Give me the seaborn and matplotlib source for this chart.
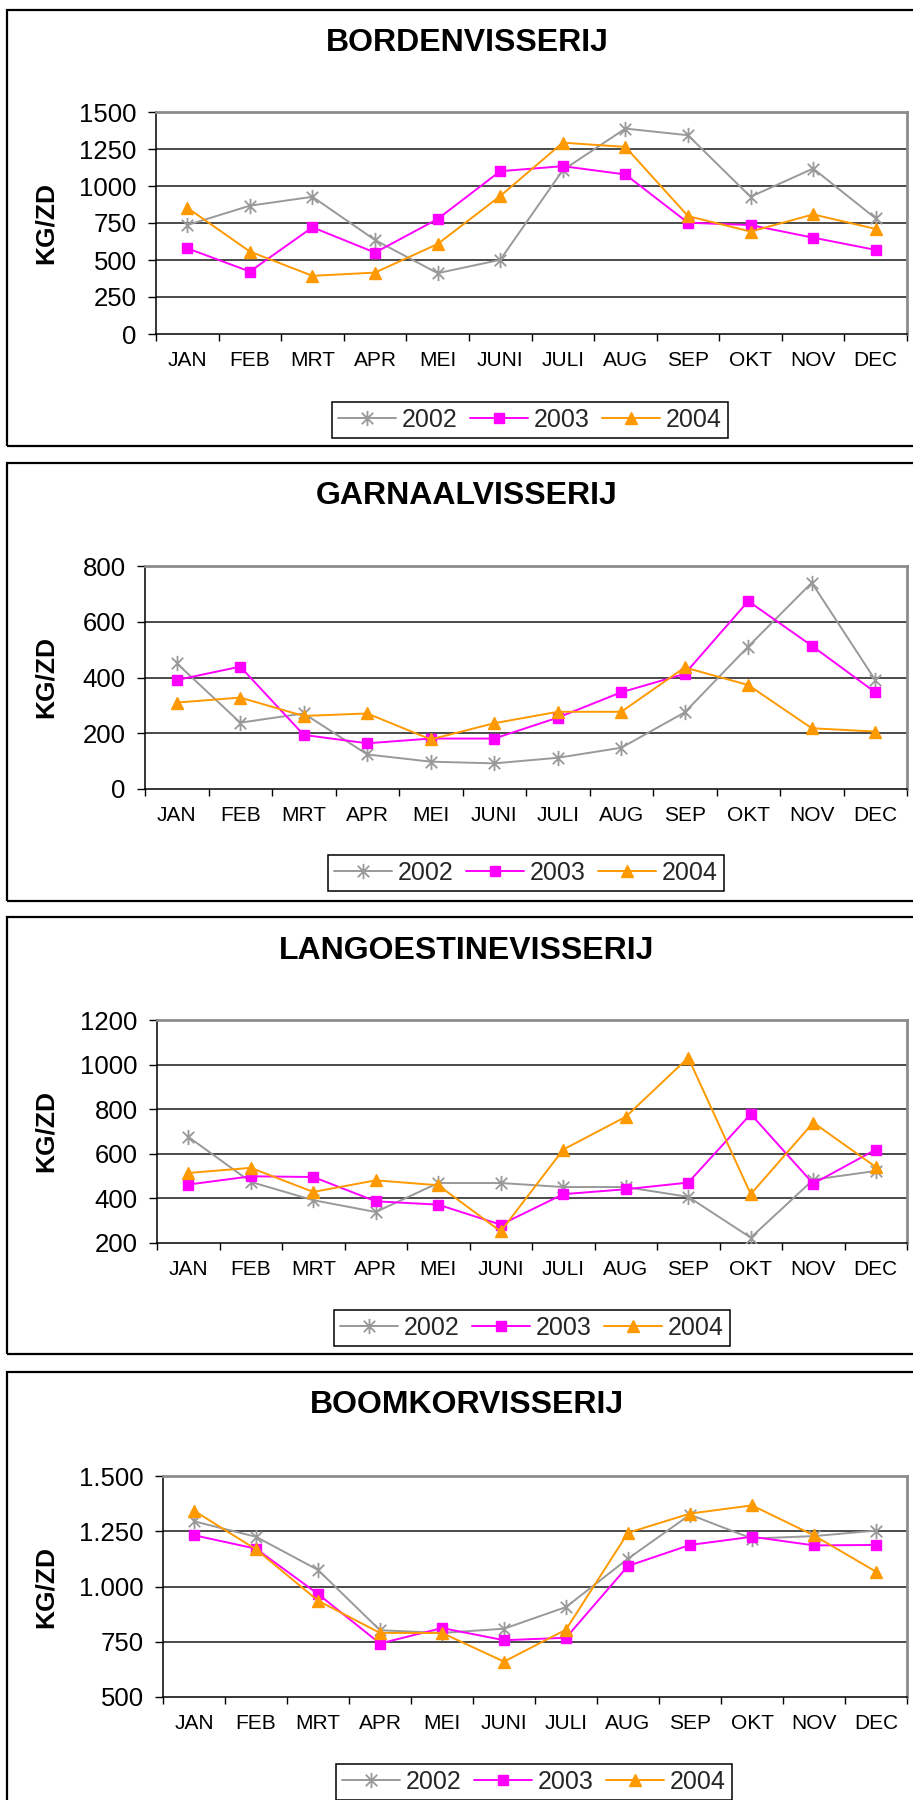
import matplotlib
matplotlib.use("Agg")
import matplotlib.pyplot as plt
from matplotlib.patches import Rectangle
from matplotlib.path import Path
from matplotlib.ticker import FuncFormatter
import numpy as np
import pandas as pd
import seaborn as sns

# ---- data -------------------------------------------------------------
months = ["JAN", "FEB", "MRT", "APR", "MEI", "JUNI", "JULI", "AUG", "SEP", "OKT", "NOV", "DEC"]
years = ["2002", "2003", "2004"]

borden_2002 = [736, 867, 927, 635, 411, 501, 1107, 1388, 1343, 927, 1118, 781]
borden_2003 = [579, 422, 721, 550, 777, 1100, 1134, 1078, 752, 736, 651, 568]
borden_2004 = [853, 557, 393, 415, 608, 932, 1293, 1264, 797, 692, 808, 710]

garnaal_2002 = [451, 238, 271, 124, 98, 92, 112, 148, 275, 511, 740, 391]
garnaal_2003 = [391, 439, 194, 164, 181, 181, 256, 347, 413, 674, 514, 347]
garnaal_2004 = [310, 328, 262, 271, 178, 236, 277, 277, 436, 373, 218, 206]

langoestine_2002 = [676, 474, 392, 339, 469, 469, 451, 451, 407, 224, 484, 523]
langoestine_2003 = [462, 499, 496, 387, 372, 282, 419, 441, 471, 778, 466, 619]
langoestine_2004 = [514, 537, 429, 481, 459, 252, 619, 766, 1031, 419, 740, 541]

boomkor_2002 = [1295, 1225, 1075, 802, 790, 809, 907, 1126, 1325, 1217, 1228, 1253]
boomkor_2003 = [1232, 1171, 966, 742, 812, 757, 768, 1093, 1188, 1225, 1186, 1188]
boomkor_2004 = [1343, 1168, 936, 790, 790, 660, 805, 1243, 1330, 1367, 1231, 1067]

titles = ["BORDENVISSERIJ", "GARNAALVISSERIJ", "LANGOESTINEVISSERIJ", "BOOMKORVISSERIJ"]
series = [
    [borden_2002, borden_2003, borden_2004],
    [garnaal_2002, garnaal_2003, garnaal_2004],
    [langoestine_2002, langoestine_2003, langoestine_2004],
    [boomkor_2002, boomkor_2003, boomkor_2004],
]
y_limits = [(0, 1500), (0, 800), (200, 1200), (500, 1500)]
y_steps = [250, 200, 200, 250]
dotted_thousands = [False, False, False, True]

# ---- styling ----------------------------------------------------------
sns.set_theme(style="white")
plt.rcParams["font.family"] = ["Liberation Sans", "DejaVu Sans"]

# star marker: an X crossed by a vertical bar
d = 0.75
star = Path(
    [(0, -1), (0, 1), (-d, -d), (d, d), (-d, d), (d, -d)],
    [Path.MOVETO, Path.LINETO, Path.MOVETO, Path.LINETO, Path.MOVETO, Path.LINETO],
)

colors = {"2002": "#999999", "2003": "#FF00FF", "2004": "#FF9900"}
markers = {"2002": star, "2003": "s", "2004": "^"}
msizes = {"2002": 11, "2003": 7.5, "2004": 9}
mews = {"2002": 1.3, "2003": 1.0, "2004": 1.0}

W, H = 913, 1800
fig = plt.figure(figsize=(W / 100, H / 100), dpi=100)
fig.patch.set_facecolor("white")

# pixel layout of each panel: (frame_top, frame_bottom, ax_left, ax_top, ax_bottom, title_y, legend_cx, legend_cy)
layout = [
    (10, 446, 156, 112, 334, 43, 530, 420),
    (463, 901, 145, 566, 789, 496, 526, 873),
    (917, 1354, 157, 1020, 1243, 951, 532, 1328),
    (1372, 1830, 163, 1476, 1697, 1405, 534, 1782),
]
ax_right = 907


def fx(px):
    return px / W


def fy(py):
    return 1 - py / H


for i, (frame_top, frame_bot, left, top, bot, title_y, lcx, lcy) in enumerate(layout):
    # panel frame
    fig.add_artist(Rectangle((fx(7), fy(frame_bot)), fx(930 - 7), (frame_bot - frame_top) / H,
                             transform=fig.transFigure, fill=False, ec="black", lw=1.6, zorder=0))
    fig.text(fx(467), fy(title_y), titles[i], ha="center", va="center",
             fontsize=23, fontweight="bold", color="black")

    ax = fig.add_axes([fx(left), fy(bot), fx(ax_right - left), (bot - top) / H])

    df = pd.DataFrame({
        "pos": np.tile(np.arange(len(months)), len(years)),
        "value": np.concatenate(series[i]),
        "year": np.repeat(years, len(months)),
    })
    for yr in years:
        sub = df[df["year"] == yr]
        sns.lineplot(data=sub, x="pos", y="value", ax=ax, color=colors[yr],
                     marker=markers[yr], markersize=msizes[yr],
                     markeredgecolor=colors[yr], markeredgewidth=mews[yr],
                     linewidth=1.4, label=yr, zorder=3)

    lo, hi = y_limits[i]
    ax.set_xlim(-0.5, len(months) - 0.5)
    ax.set_ylim(lo, hi)
    ticks = np.arange(lo, hi + 1, y_steps[i])
    ax.set_yticks(ticks)
    if dotted_thousands[i]:
        ax.yaxis.set_major_formatter(FuncFormatter(lambda v, p: f"{int(v):,}".replace(",", ".")))
    ax.set_xticks(np.arange(len(months)))
    ax.set_xticklabels(months)
    ax.set_xticks(np.arange(-0.5, len(months)), minor=True)
    ax.tick_params(axis="x", which="major", length=0, pad=12, labelsize=15, colors="black")
    ax.tick_params(axis="x", which="minor", length=5, width=1, direction="out", color="black", bottom=True)
    ax.tick_params(axis="y", length=6, width=1, direction="out", pad=8, labelsize=18.5,
                   colors="black", left=True)

    for t in ticks[1:-1]:
        ax.axhline(t, color="#1a1a1a", lw=1.1, zorder=1)
    ax.spines["left"].set_color("black")
    ax.spines["bottom"].set_color("black")
    ax.spines["left"].set_linewidth(1.1)
    ax.spines["bottom"].set_linewidth(1.1)
    ax.spines["top"].set_color("#8c8c8c")
    ax.spines["right"].set_color("#8c8c8c")
    ax.spines["top"].set_linewidth(2)
    ax.spines["right"].set_linewidth(2)
    ax.set_xlabel("")
    ax.set_ylabel("KG/ZD", fontsize=19, fontweight="bold", color="black")
    ax.yaxis.set_label_coords(fx(58), fy((top + bot) / 2), transform=fig.transFigure)

    handles, labels = ax.get_legend_handles_labels()
    leg = ax.legend(handles, labels, ncol=3, loc="center",
                    bbox_to_anchor=(fx(lcx), fy(lcy)), bbox_transform=fig.transFigure,
                    frameon=True, fancybox=False, framealpha=1, edgecolor="black",
                    fontsize=18, handlelength=2.3, handletextpad=0.25, columnspacing=0.5,
                    borderpad=0.25)
    leg.get_frame().set_linewidth(1.1)

fig.savefig("out.png", dpi=100, facecolor="white")
